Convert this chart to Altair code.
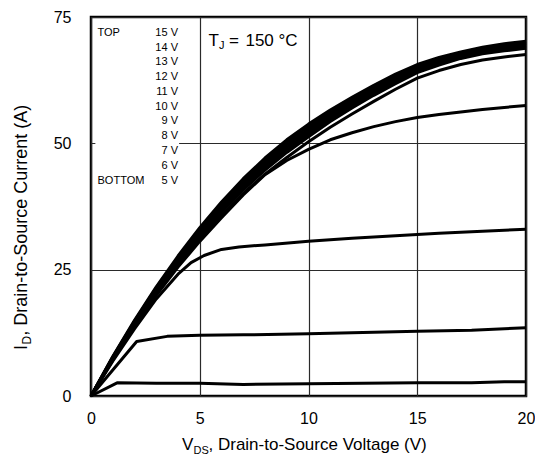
import altair as alt
import pandas as pd

FONT = "Liberation Sans"

# ---------------- data ----------------
vds_grid = list(range(21))

id_15v = [0, 7.8, 15.0, 21.6, 27.7, 33.3, 38.4, 43.0, 47.1, 50.7, 53.8, 56.6, 59.1, 61.5, 63.7, 65.6, 67.0, 68.1, 69.0, 69.7, 70.2]
id_14v = [0, 7.7, 14.8, 21.4, 27.4, 32.9, 38.0, 42.6, 46.6, 50.2, 53.3, 56.1, 58.7, 61.1, 63.3, 65.2, 66.7, 67.9, 68.8, 69.4, 69.9]
id_13v = [0, 7.6, 14.7, 21.2, 27.2, 32.6, 37.6, 42.1, 46.1, 49.7, 52.8, 55.7, 58.3, 60.7, 62.9, 64.9, 66.4, 67.6, 68.5, 69.2, 69.7]
id_12v = [0, 7.5, 14.5, 21.0, 26.9, 32.3, 37.2, 41.7, 45.7, 49.2, 52.3, 55.2, 57.9, 60.3, 62.6, 64.6, 66.1, 67.3, 68.3, 68.9, 69.4]
id_11v = [0, 7.4, 14.4, 20.8, 26.6, 32.0, 36.8, 41.2, 45.2, 48.7, 51.8, 54.8, 57.5, 59.9, 62.2, 64.3, 65.8, 67.0, 68.0, 68.6, 69.1]
id_10v = [0, 7.3, 14.2, 20.5, 26.3, 31.6, 36.4, 40.8, 44.7, 48.2, 51.3, 54.3, 57.0, 59.5, 61.8, 64.0, 65.5, 66.8, 67.7, 68.3, 68.8]
id_9v = [0, 7.2, 14.0, 20.2, 25.9, 31.1, 35.8, 40.1, 43.9, 47.2, 50.3, 53.2, 55.8, 58.3, 60.7, 62.9, 64.4, 65.6, 66.5, 67.1, 67.6]
id_8v = [0, 7.1, 13.8, 19.9, 25.5, 30.6, 35.3, 39.8, 43.8, 46.6, 48.8, 50.7, 52.1, 53.3, 54.3, 55.1, 55.7, 56.2, 56.7, 57.1, 57.5]

vds_7v = [0, 1, 2, 3, 4, 4.6, 5.2, 6, 6.8, 8, 10, 12, 14, 16, 18, 20]
id_7v = [0, 6.9, 13.3, 19.2, 24.1, 26.4, 27.8, 29.0, 29.5, 29.9, 30.6, 31.2, 31.7, 32.2, 32.6, 33.0]

vds_6v = [0, 2.1, 3.5, 5, 7, 10, 12, 15, 17.5, 20]
id_6v = [0, 10.8, 11.8, 12.0, 12.1, 12.3, 12.5, 12.8, 13.0, 13.5]

vds_5v = [0, 1.2, 3, 5, 7, 10, 15, 17.5, 19, 20]
id_5v = [0, 2.6, 2.5, 2.5, 2.3, 2.4, 2.6, 2.6, 2.8, 2.8]

legend_labels = ["15 V", "14 V", "13 V", "12 V", "11 V", "10 V", "9 V", "8 V", "7 V", "6 V", "5 V"]

x_ticks = [0, 5, 10, 15, 20]
y_ticks = [0, 25, 50, 75]

# ---------------- build table ----------------
series = [
    ("15 V", vds_grid, id_15v), ("14 V", vds_grid, id_14v), ("13 V", vds_grid, id_13v),
    ("12 V", vds_grid, id_12v), ("11 V", vds_grid, id_11v), ("10 V", vds_grid, id_10v),
    ("9 V", vds_grid, id_9v), ("8 V", vds_grid, id_8v), ("7 V", vds_7v, id_7v),
    ("6 V", vds_6v, id_6v), ("5 V", vds_5v, id_5v),
]
rows = []
for name, xs, ys in series:
    for i, (xv, yv) in enumerate(zip(xs, ys)):
        rows.append({"vgs": name, "vds": xv, "id": yv, "order": i})
df = pd.DataFrame(rows)

xscale = alt.Scale(domain=[0, 20], nice=False, zero=False)
yscale = alt.Scale(domain=[0, 75], nice=False, zero=False)

x_axis = alt.Axis(values=x_ticks, title=None, grid=True, gridColor="#2a2a2a", gridWidth=1.2,
                  ticks=False, domain=False, labelFont=FONT, labelFontSize=16,
                  labelColor="black", labelPadding=14, labelFlush=False)
y_axis = alt.Axis(values=y_ticks, title=None, grid=True, gridColor="#2a2a2a", gridWidth=1.2,
                  ticks=False, domain=False, labelFont=FONT, labelFontSize=16,
                  labelColor="black", labelPadding=20, labelFlush=False)

lines = alt.Chart(df).mark_line(color="black", strokeWidth=3, strokeJoin="round").encode(
    x=alt.X("vds:Q", scale=xscale, axis=x_axis),
    y=alt.Y("id:Q", scale=yscale, axis=y_axis),
    detail="vgs:N",
    order="order:Q",
)

# white box behind the legend text (hides the 50 A grid line there)
legend_bg = alt.Chart(pd.DataFrame({"x": [0.2], "x2": [4.05], "y": [41.5], "y2": [74.3]})).mark_rect(
    color="white").encode(
    x=alt.X("x:Q", scale=xscale), x2="x2:Q",
    y=alt.Y("y:Q", scale=yscale), y2="y2:Q",
)

leg_df = pd.DataFrame({
    "t": legend_labels,
    "x": [4.0] * len(legend_labels),
    "y": [71.25 - i * 2.92 for i in range(len(legend_labels))],
})
legend_volts = alt.Chart(leg_df).mark_text(
    align="right", baseline="alphabetic", font=FONT, fontSize=11, color="black").encode(
    x=alt.X("x:Q", scale=xscale), y=alt.Y("y:Q", scale=yscale), text="t:N")

tb_df = pd.DataFrame({"t": ["TOP", "BOTTOM"], "x": [0.3, 0.3], "y": [71.25, 71.25 - 10 * 2.92]})
legend_tb = alt.Chart(tb_df).mark_text(
    align="left", baseline="alphabetic", font=FONT, fontSize=11, color="black").encode(
    x=alt.X("x:Q", scale=xscale), y=alt.Y("y:Q", scale=yscale), text="t:N")

# T_J = 150 °C
tj_df = pd.DataFrame({"t": ["T", "=", "150 °C"], "x": [5.4, 6.35, 7.1], "y": [69.33, 69.33, 69.33]})
tj_main = alt.Chart(tj_df).mark_text(
    align="left", baseline="alphabetic", font=FONT, fontSize=17, color="black").encode(
    x=alt.X("x:Q", scale=xscale), y=alt.Y("y:Q", scale=yscale), text="t:N")
tj_sub = alt.Chart(pd.DataFrame({"t": ["J"], "x": [5.88], "y": [68.6]})).mark_text(
    align="left", baseline="alphabetic", font=FONT, fontSize=11, color="black").encode(
    x=alt.X("x:Q", scale=xscale), y=alt.Y("y:Q", scale=yscale), text="t:N")

# axis titles with subscripts (pixel positions relative to the plot area)
def ptext(t, px, py, size, angle=0):
    mk = dict(align="left", baseline="alphabetic", font=FONT, fontSize=size, color="black")
    if angle:
        mk["angle"] = angle
    return alt.Chart(pd.DataFrame({"t": [t]})).mark_text(**mk).encode(
        x=alt.value(px), y=alt.value(py), text="t:N")

xt1 = ptext("V", 91, 433, 17)
xt2 = ptext("DS", 102.5, 436.5, 11)
xt3 = ptext(", Drain-to-Source Voltage (V)", 117.5, 433, 17)

yt1 = ptext("I", -64, 333, 18, 270)
yt2 = ptext("D", -60.5, 327.5, 12, 270)
yt3 = ptext(", Drain-to-Source Current (A)", -64, 318.8, 18, 270)

chart = alt.layer(
    lines, legend_bg, legend_volts, legend_tb, tj_main, tj_sub,
    xt1, xt2, xt3, yt1, yt2, yt3,
).properties(
    width=435, height=379,
    autosize=alt.AutoSizeParams(type="none"),
    padding={"left": 91, "top": 17, "right": 9, "bottom": 59},
    background="white",
).configure_view(
    stroke="black", strokeWidth=2.5,
)

chart.save("out.html", embed_options={"renderer": "svg", "actions": False})
